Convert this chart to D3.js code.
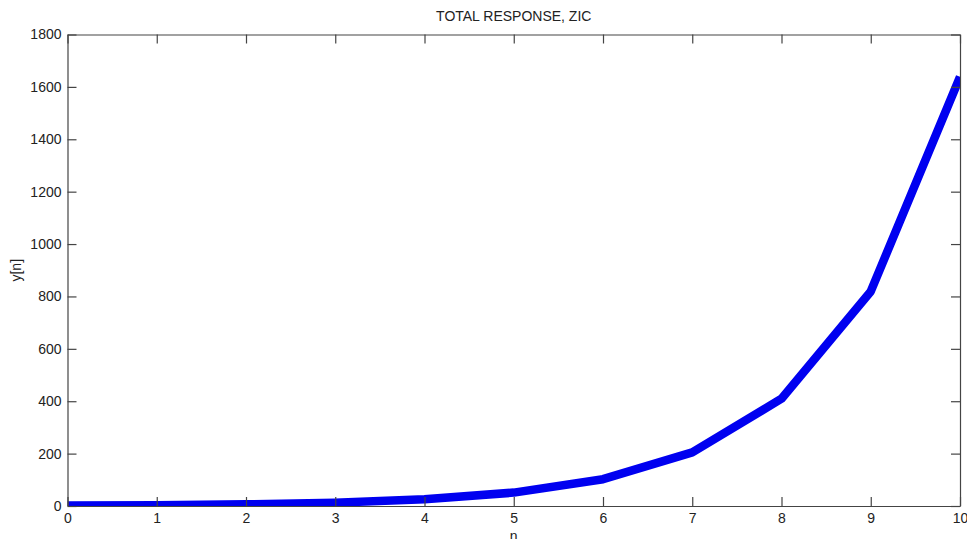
<!DOCTYPE html>
<html>
<head>
<meta charset="utf-8">
<script src="https://cdn.jsdelivr.net/npm/d3@7"></script>
<style>
  html, body { margin: 0; padding: 0; background: #fff; }
  svg { display: block; font-family: "Liberation Sans", Arial, sans-serif; }
</style>
</head>
<body>
<div id="chart"></div>
<script>
'use strict';

// values
const nValues = [0, 1, 2, 3, 4, 5, 6, 7, 8, 9, 10];
const yValues = [1.6, 3.2, 6.4, 12.8, 25.6, 51.2, 102.4, 204.8, 409.6, 819.2, 1638.4];
const xTicks = [0, 1, 2, 3, 4, 5, 6, 7, 8, 9, 10];
const yTicks = [0, 200, 400, 600, 800, 1000, 1200, 1400, 1600, 1800];

const title = "TOTAL RESPONSE, ZIC";
const xLabel = "n";
const yLabel = "y[n]";

const width = 967;
const height = 539;
const margin = {top: 34.5, right: 7, bottom: 33, left: 67.5};
const fontSize = "14px";

const svg = d3.select("#chart")
  .append("svg")
  .attr("width", width)
  .attr("height", height);

const x = d3.scaleLinear()
  .domain([0, 10])
  .range([margin.left, width - margin.right]);

const y = d3.scaleLinear()
  .domain([0, 1800])
  .range([height - margin.bottom, margin.top]);

const axisColor = "#444";
const textColor = "#222";
const tickLen = 9;

// clip so the thick line stays inside the box
svg.append("clipPath")
  .attr("id", "plotClip")
  .append("rect")
  .attr("x", x(0))
  .attr("y", y(1800))
  .attr("width", x(10) - x(0))
  .attr("height", y(0) - y(1800));

const line = d3.line()
  .x((d, i) => x(nValues[i]))
  .y(d => y(d));

svg.append("path")
  .datum(yValues)
  .attr("clip-path", "url(#plotClip)")
  .attr("fill", "none")
  .attr("stroke", "#0000f0")
  .attr("stroke-width", 8.5)
  .attr("stroke-linejoin", "round")
  .attr("d", line);

// axes, MATLAB style: ticks pointing in, mirrored on top/right
const fmt = d3.format("d");
const bottomAxis = d3.axisBottom(x).tickValues(xTicks).tickFormat(fmt).tickSizeInner(-tickLen).tickSizeOuter(0).tickPadding(7);
const topAxis = d3.axisTop(x).tickValues(xTicks).tickSizeInner(-tickLen).tickSizeOuter(0).tickFormat("");
const leftAxis = d3.axisLeft(y).tickValues(yTicks).tickFormat(fmt).tickSizeInner(-tickLen).tickSizeOuter(0).tickPadding(6);
const rightAxis = d3.axisRight(y).tickValues(yTicks).tickSizeInner(-tickLen).tickSizeOuter(0).tickFormat("");

function styleAxis(g) {
  g.select(".domain").attr("stroke", axisColor).attr("stroke-width", 1.2);
  g.selectAll(".tick line").attr("stroke", axisColor).attr("stroke-width", 1.2);
  g.selectAll(".tick text")
    .attr("fill", textColor)
    .style("font-size", fontSize)
    .style("font-family", "'Liberation Sans', Arial, sans-serif");
}

svg.append("g")
  .attr("transform", `translate(0, ${y(0)})`)
  .call(bottomAxis)
  .call(styleAxis);

svg.append("g")
  .attr("transform", `translate(0, ${y(1800)})`)
  .call(topAxis)
  .call(styleAxis);

svg.append("g")
  .attr("transform", `translate(${x(0)}, 0)`)
  .call(leftAxis)
  .call(styleAxis);

svg.append("g")
  .attr("transform", `translate(${x(10)}, 0)`)
  .call(rightAxis)
  .call(styleAxis);

// title and labels
svg.append("text")
  .attr("x", (x(0) + x(10)) / 2)
  .attr("y", 21)
  .attr("text-anchor", "middle")
  .attr("fill", textColor)
  .style("font-size", fontSize)
  .text(title);

svg.append("text")
  .attr("x", (x(0) + x(10)) / 2)
  .attr("y", 541)
  .attr("text-anchor", "middle")
  .attr("fill", textColor)
  .style("font-size", fontSize)
  .text(xLabel);

svg.append("text")
  .attr("transform", `translate(21, ${(y(0) + y(1800)) / 2}) rotate(-90)`)
  .attr("text-anchor", "middle")
  .attr("fill", textColor)
  .style("font-size", fontSize)
  .text(yLabel);
</script>
</body>
</html>
